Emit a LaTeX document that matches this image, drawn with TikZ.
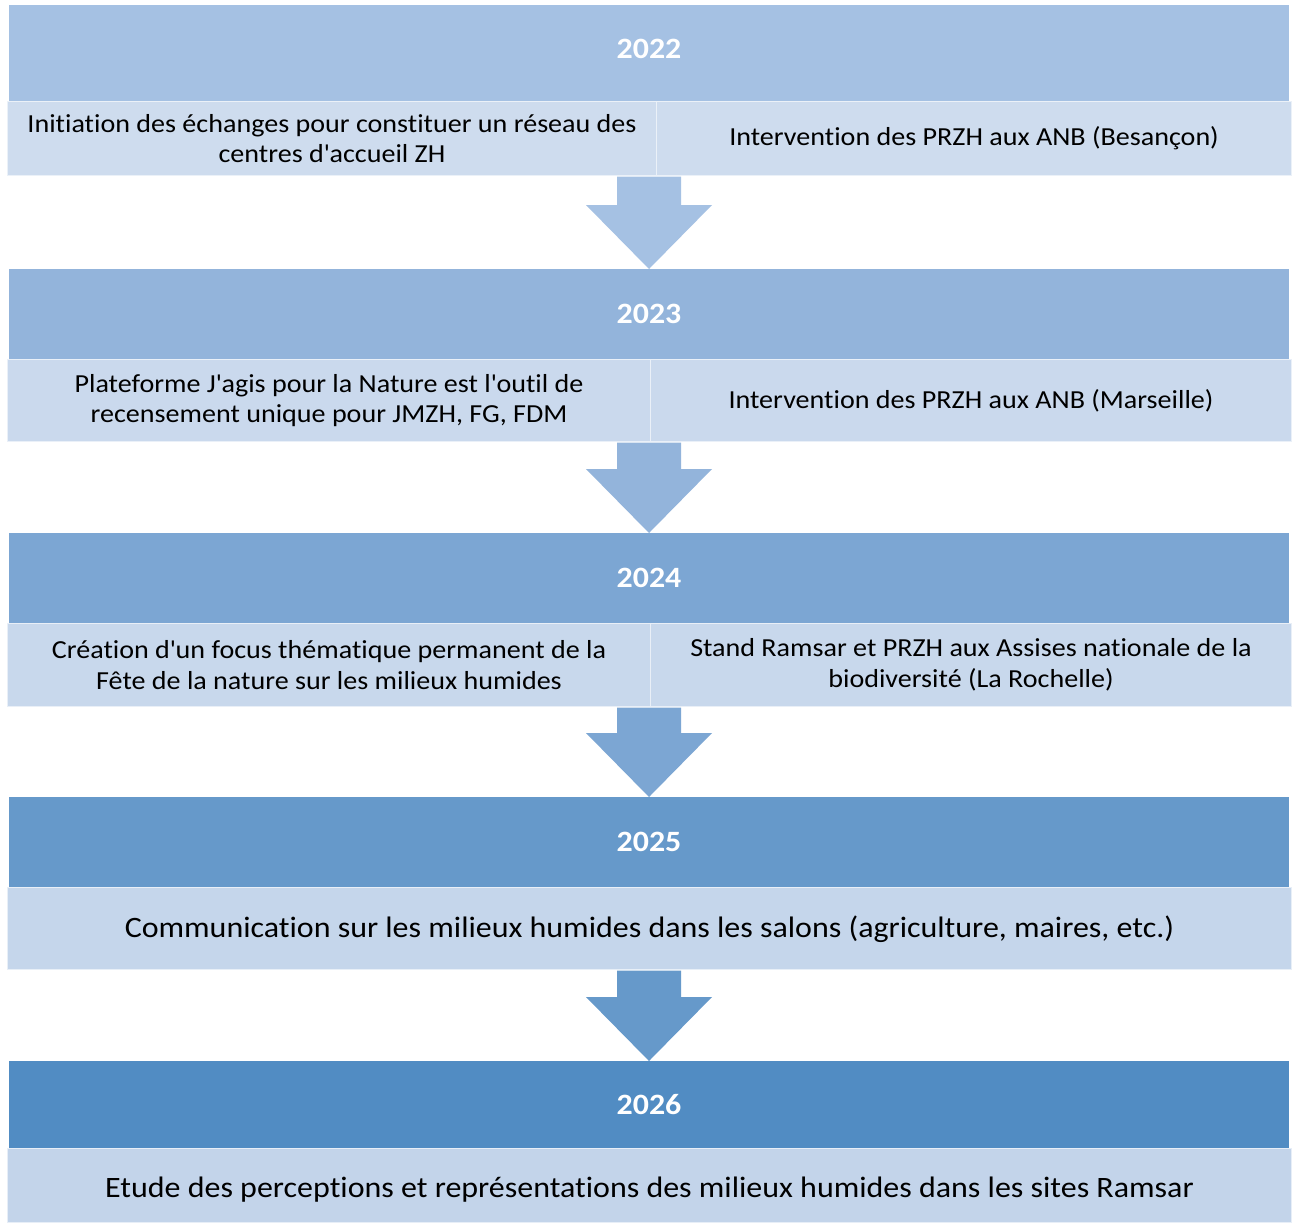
\documentclass[tikz,border=0pt]{standalone}
\usepackage{fontspec}
\setmainfont{Carlito}[FakeStretch=1.08,Ligatures=NoCommon]
\usetikzlibrary{calc}
\definecolor{hA}{HTML}{A5C1E3}
\definecolor{hB}{HTML}{93B4DB}
\definecolor{hC}{HTML}{7CA6D3}
\definecolor{hD}{HTML}{6699CA}
\definecolor{hE}{HTML}{518CC3}
\definecolor{sA}{HTML}{CEDCEE}
\definecolor{sB}{HTML}{CAD9ED}
\definecolor{sC}{HTML}{C8D8EC}
\definecolor{sD}{HTML}{C5D6EB}
\definecolor{sE}{HTML}{C3D4EA}
\newcommand{\aq}{\textquotesingle}
\begin{document}
\begin{tikzpicture}[x=1pt,y=-1pt,
  yearbox/.style={fill=#1,draw=none,minimum width=1280pt,inner sep=0pt,text=white,
    font=\fontsize{29.5}{33}\selectfont\bfseries,anchor=north},
  subbox/.style={fill=#1,draw=white!60!#1,line width=1pt,inner sep=0pt,align=center,
    font=\fontsize{26}{30.5}\selectfont,anchor=north west},
  bigsub/.style={fill=#1,draw=white!60!#1,line width=1pt,inner sep=0pt,
    font=\fontsize{29.6}{34}\selectfont,anchor=north west},
  yeartext/.style={text=white,font=\fontsize{29.5}{33}\selectfont\bfseries,inner sep=0pt}]
\useasboundingbox (0,0) rectangle (1295,1224);
\fill[white] (0,0) rectangle (1295,1224);
% 2022
\node[yearbox=hA,minimum height=96pt] (h1) at (649,5) {};
\node[yeartext] (y1) at (649,49) {2022};
\node[subbox=sA,minimum width=649pt,minimum height=74pt] (s1l) at (7,101)
  {Initiation des échanges pour constituer un réseau des\\centres d\aq accueil ZH};
\node[subbox=sA,minimum width=635pt,minimum height=74pt] (s1r) at (656,101)
  {Intervention des PRZH aux ANB (Besançon)};
% 2023
\node[yearbox=hB,minimum height=90pt] (h2) at (649,269) {2023};
\node[subbox=sB,minimum width=643pt,minimum height=82pt] (s2l) at (7,359)
  {Plateforme J\aq agis pour la Nature est l\aq outil de\\recensement unique pour JMZH, FG, FDM};
\node[subbox=sB,minimum width=641pt,minimum height=82pt] (s2r) at (650,359)
  {Intervention des PRZH aux ANB (Marseille)};
% 2024
\node[yearbox=hC,minimum height=90pt] (h3) at (649,533) {2024};
\node[subbox=sC,minimum width=643pt,minimum height=83pt] (s3l) at (7,623)
  {Création d\aq un focus thématique permanent de la\\Fête de la nature sur les milieux humides};
\node[subbox=sC,minimum width=641pt,minimum height=83pt] (s3r) at (650,623)
  {Stand Ramsar et PRZH aux Assises nationale de la\\biodiversité (La Rochelle)};
% 2025
\node[yearbox=hD,minimum height=90pt] (h4) at (649,797) {2025};
\node[bigsub=sD,minimum width=1284pt,minimum height=82pt,text height=20pt,text depth=2pt] (s4) at (7,887)
  {Communication sur les milieux humides dans les salons (agriculture, maires, etc.)};
% 2026
\node[yearbox=hE,minimum height=87pt] (h5) at (649,1061) {2026};
\node[bigsub=sE,minimum width=1284pt,minimum height=74pt,text height=24pt,text depth=0pt] (s5) at (7,1148)
  {Etude des perceptions et représentations des milieux humides dans les sites Ramsar};
% arrows
\foreach \top/\bot/\col in {s1l/h2/hA, s2l/h3/hB, s3l/h4/hC, s4/h5/hD}{
  \path let \p1=(\top.south), \p2=(\bot.north) in
    coordinate (t) at (649,\y1) coordinate (b) at (649,\y2);
  \fill[\col] ($(t)+(-32,0.5)$) -- ($(t)+(32,0.5)$) -- ($(b)+(32,-64)$) -- ($(b)+(63,-64)$)
    -- (b) -- ($(b)+(-63,-64)$) -- ($(b)+(-32,-64)$) -- cycle;
}
\end{tikzpicture}
\end{document}
